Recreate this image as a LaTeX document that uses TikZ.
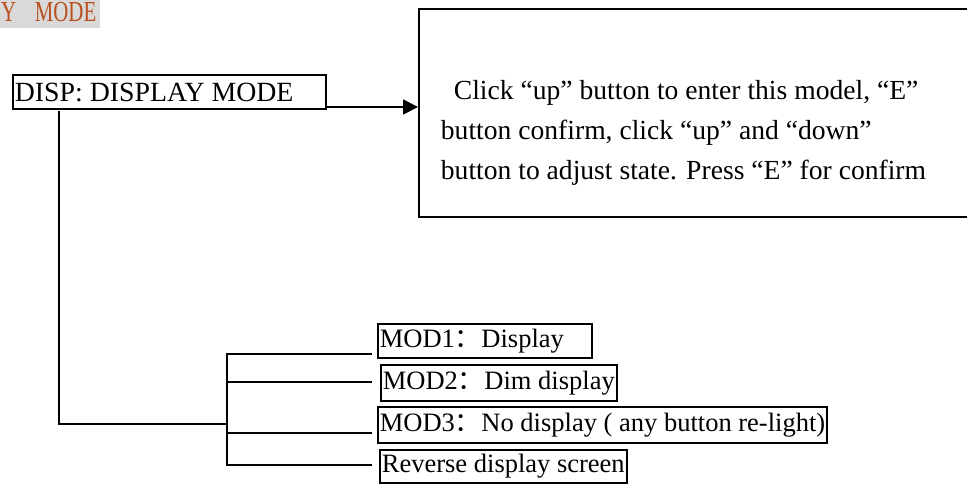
\documentclass[tikz,border=0pt]{standalone}
\usepackage{fontspec}
\setmainfont{Liberation Serif}
\newfontfamily\cjk{Noto Sans CJK SC}
\usetikzlibrary{arrows.meta,positioning}
\definecolor{headbrown}{RGB}{185,80,30}

\begin{document}
\begin{tikzpicture}[x=1pt,y=-1pt,line width=1.8pt,line cap=rect,>={Triangle[length=15pt,width=15pt]}]
        \tikzstyle{menubox}=[draw,rectangle,anchor=west,inner xsep=2pt,inner ysep=0pt,font=\fontsize{26.5}{30}\selectfont]

        \useasboundingbox (0,0) rectangle (967,484);

        % heading left over from the page above
        \fill[black!15] (0,0) rectangle (100,28);
        \node[anchor=base east,inner sep=0pt,text=headbrown,font=\fontsize{29}{30}\selectfont,xscale=0.72] (head) at (97,21.5) {Y\hspace{0.9em}MODE};

        \node[menubox,minimum height=34pt,font=\fontsize{27.8}{30}\selectfont] (disp) at (12,92) {\makebox[309pt][l]{DISP: DISPLAY MODE}};
        \node[draw,rectangle,anchor=north west,minimum width=560pt,minimum height=208pt] (help) at (418,8) {};
        \node[anchor=north west,align=left,inner sep=0pt,font=\fontsize{27.6}{40}\selectfont] (helptext) at (440,79)
            {\hspace*{13pt}Click “up” button to enter this model, “E”\\
             button confirm, click “up” and “down”\\
             button to adjust state. Press “E” for confirm};

        \node[menubox,minimum height=34pt] (m1) at (377,341) {\makebox[210pt][l]{MOD1{\cjk：}Display}};
        \node[menubox,minimum height=36pt] (m2) at (380,383) {MOD2{\cjk：}Dim display};
        \node[menubox,minimum height=36pt] (m3) at (377,425) {MOD3{\cjk：}No display ( any button re-light)};
        \node[menubox,minimum height=33pt] (m4) at (379,466.5) {Reverse display screen};

        \coordinate (out)  at (325,107);
        \coordinate (root) at (59,112);
        \coordinate (fork) at (227,424);
        \coordinate (b1) at (371,354);
        \coordinate (b2) at (371,382);
        \coordinate (b3) at (371,433);
        \coordinate (b4) at (371,465);

        \draw[->,line cap=butt] (out) -- (out -| help.west);
        \draw (root) |- (fork);
        \draw (fork |- b1) -- (fork |- b4);
        \foreach \b in {b1,b2,b3,b4}
            \draw (fork |- \b) -- (\b);
\end{tikzpicture}
\end{document}
